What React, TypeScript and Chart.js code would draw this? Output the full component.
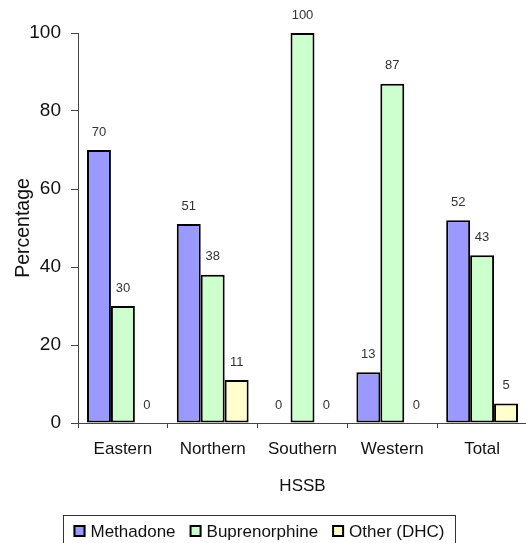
import React, { useEffect, useRef } from "react";
import { Chart, registerables } from "chart.js";

Chart.register(...registerables);

const categories = ["Eastern", "Northern", "Southern", "Western", "Total"];
const methadone = [70, 51, 0, 13, 52];
const buprenorphine = [30, 38, 100, 87, 43];
const other = [0, 11, 0, 0, 5];
const seriesLabels = ["Methadone", "Buprenorphine", "Other (DHC)"];
const seriesColors = ["#9999FF", "#CCFFCC", "#FFFFCC"];
const yMin = 0;
const yMax = 100;
const yStep = 20;
const xTitle = "HSSB";
const yTitle = "Percentage";

const FONT = "'Liberation Sans', Arial, Helvetica, sans-serif";

const dataLabelsPlugin = {
  id: "dataLabels",
  afterDatasetsDraw(chart: any) {
    const ctx = chart.ctx;
    ctx.save();
    ctx.font = `13px ${FONT}`;
    ctx.fillStyle = "#333";
    ctx.textAlign = "center";
    ctx.textBaseline = "middle";
    chart.data.datasets.forEach((ds: any, i: number) => {
      const meta = chart.getDatasetMeta(i);
      meta.data.forEach((el: any, j: number) => {
        ctx.fillText(String(ds.data[j]), el.x, el.y - 18);
      });
    });
    ctx.restore();
  },
};

const legendBoxPlugin = {
  id: "legendBox",
  afterDraw(chart: any) {
    const ctx = chart.ctx;
    ctx.save();
    const boxLeft = 63;
    const boxRight = 455;
    const boxTop = 515;
    ctx.strokeStyle = "#333";
    ctx.lineWidth = 1;
    ctx.strokeRect(boxLeft + 0.5, boxTop + 0.5, boxRight - boxLeft, 60);
    ctx.font = `17px ${FONT}`;
    const sw = 12;
    const gapText = 5;
    const gapItem = 14;
    const widths = chart.data.datasets.map((ds: any) => ctx.measureText(ds.label).width);
    const total =
      widths.reduce((a: number, b: number) => a + b, 0) +
      widths.length * (sw + gapText) +
      (widths.length - 1) * gapItem;
    let x = (boxLeft + boxRight) / 2 - total / 2;
    const cy = 531;
    ctx.textBaseline = "middle";
    ctx.textAlign = "left";
    chart.data.datasets.forEach((ds: any, i: number) => {
      ctx.fillStyle = ds.backgroundColor;
      ctx.fillRect(x, cy - sw / 2, sw, sw);
      ctx.lineWidth = 2;
      ctx.strokeStyle = "#000";
      ctx.strokeRect(x + 1, cy - sw / 2 + 1, sw - 2, sw - 2);
      ctx.fillStyle = "#111";
      ctx.fillText(ds.label, x + sw + gapText, cy + 1);
      x += sw + gapText + widths[i] + gapItem;
    });
    ctx.restore();
  },
};

export default function App() {
  const canvasRef = useRef<HTMLCanvasElement | null>(null);

  useEffect(() => {
    if (!canvasRef.current) return;
    const seriesData = [methadone, buprenorphine, other];
    const chart = new Chart(canvasRef.current, {
      type: "bar",
      data: {
        labels: categories,
        datasets: seriesLabels.map((label, i) => ({
          label,
          data: seriesData[i],
          backgroundColor: seriesColors[i],
          borderColor: "#000",
          borderWidth: 2,
          borderSkipped: false,
          categoryPercentage: 0.8,
          barPercentage: 1.0,
        })),
      },
      options: {
        responsive: false,
        animation: false,
        devicePixelRatio: 1,
        layout: { padding: { top: 33, right: 33, left: 0, bottom: 0 } },
        plugins: {
          legend: { display: false },
          tooltip: { enabled: false },
        },
        scales: {
          x: {
            offset: true,
            grid: {
              offset: true,
              drawOnChartArea: false,
              drawTicks: true,
              tickLength: 5,
              color: "#444",
            },
            border: { display: true, color: "#444", width: 1 },
            ticks: {
              color: "#111",
              font: { family: FONT, size: 17 },
              padding: 11,
              maxRotation: 0,
            },
            title: {
              display: true,
              text: xTitle,
              color: "#111",
              font: { family: FONT, size: 17 },
              padding: { top: 0, bottom: 46 },
            },
            afterFit: (s: any) => {
              s.height = 120;
            },
          },
          y: {
            min: yMin,
            max: yMax,
            grid: {
              drawOnChartArea: false,
              drawTicks: true,
              tickLength: 7,
              color: "#444",
            },
            border: { display: true, color: "#444", width: 1 },
            ticks: {
              stepSize: yStep,
              color: "#111",
              font: { family: FONT, size: 19 },
              padding: 10,
            },
            title: {
              display: true,
              text: yTitle,
              color: "#111",
              font: { family: FONT, size: 19.5 },
              padding: { top: 12, bottom: 0 },
            },
            afterFit: (s: any) => {
              s.width = 78;
            },
          },
        },
      },
      plugins: [dataLabelsPlugin, legendBoxPlugin],
    });
    return () => chart.destroy();
  }, []);

  return (
    <div
      style={{
        position: "fixed",
        left: 0,
        top: 0,
        width: 526,
        height: 543,
        overflow: "hidden",
        background: "#fff",
      }}
    >
      <canvas ref={canvasRef} width={560} height={543} style={{ width: 560, height: 543, display: "block" }} />
    </div>
  );
}
